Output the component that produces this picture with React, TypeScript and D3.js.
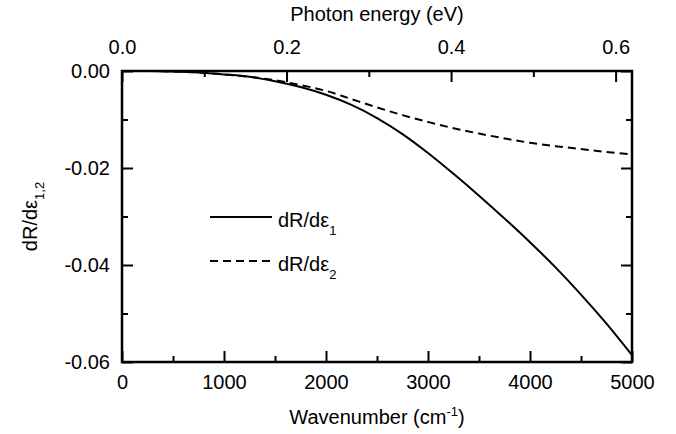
import React, { useEffect, useRef } from 'react';
import * as d3 from 'd3';

// wavenumber grid (cm^-1) and the two derivative curves
const wavenumbers = [250, 500, 750, 1000, 1250, 1500, 1750, 2000, 2250, 2500, 2750, 3000, 3250, 3500, 3750, 4000, 4250, 4500, 4750, 5000];
const dRde1 = [0, -0.0001, -0.0003, -0.0007, -0.0012, -0.0021, -0.0033, -0.0049, -0.007, -0.0097, -0.013, -0.0169, -0.0212, -0.0257, -0.0304, -0.0353, -0.0405, -0.0461, -0.0521, -0.0586];
const dRde2 = [0, -0.0001, -0.0003, -0.0007, -0.0012, -0.0019, -0.0029, -0.0041, -0.0058, -0.0075, -0.0091, -0.0105, -0.0118, -0.0129, -0.0139, -0.0148, -0.0155, -0.0161, -0.0167, -0.0172];

const wnTicks = [0, 1000, 2000, 3000, 4000, 5000];
const wnMinor = [500, 1500, 2500, 3500, 4500];
const evTicks = [0, 0.2, 0.4, 0.6];
const evMinor = [0.1, 0.3, 0.5];
const yTicks = [0, -0.02, -0.04, -0.06];
const yMinor = [-0.01, -0.03, -0.05];

const CM_PER_EV = 8065.54;
const FONT = '"Liberation Sans", Arial, sans-serif';

const App = () => {
  const svgRef = useRef<SVGSVGElement>(null);

  useEffect(() => {
    const W = 676, H = 434;
    const m = { top: 71, right: 44, bottom: 72, left: 122 };
    const w = W - m.left - m.right;
    const h = H - m.top - m.bottom;

    const root = d3.select(svgRef.current);
    root.selectAll('*').remove();
    const svg = root.append('g').attr('transform', `translate(${m.left},${m.top})`);

    const x = d3.scaleLinear().domain([0, 5000]).range([0, w]);
    const xe = d3.scaleLinear().domain([0, 5000 / CM_PER_EV]).range([0, w]);
    const y = d3.scaleLinear().domain([0, -0.06]).range([0, h]);

    const major = 11, minor = 6;

    const style = (g: any) => {
      g.select('.domain').remove();
      g.selectAll('.tick line').attr('stroke', '#000').attr('stroke-width', 2);
      g.selectAll('text').attr('fill', '#000').style('font-family', FONT).style('font-size', '20px');
    };

    // bottom
    svg.append('g').attr('transform', `translate(0,${h})`)
      .call(d3.axisBottom(x).tickValues(wnTicks).tickSizeInner(-major).tickSizeOuter(0).tickPadding(13).tickFormat(d3.format('d')))
      .call(style);
    svg.append('g').attr('transform', `translate(0,${h})`)
      .call(d3.axisBottom(x).tickValues(wnMinor).tickSizeInner(-minor).tickSizeOuter(0).tickFormat(() => ''))
      .call(style);
    // top
    svg.append('g')
      .call(d3.axisTop(xe).tickValues(evTicks).tickSizeInner(-major).tickSizeOuter(0).tickPadding(17).tickFormat(d3.format('.1f')))
      .call(style);
    svg.append('g')
      .call(d3.axisTop(xe).tickValues(evMinor).tickSizeInner(-minor).tickSizeOuter(0).tickFormat(() => ''))
      .call(style);
    // left
    svg.append('g')
      .call(d3.axisLeft(y).tickValues(yTicks).tickSizeInner(-major).tickSizeOuter(0).tickPadding(12).tickFormat(d => d3.format('.2f')(+d).replace('−', '-')))
      .call(style);
    svg.append('g')
      .call(d3.axisLeft(y).tickValues(yMinor).tickSizeInner(-minor).tickSizeOuter(0).tickFormat(() => ''))
      .call(style);
    // right
    svg.append('g').attr('transform', `translate(${w},0)`)
      .call(d3.axisRight(y).tickValues(yTicks).tickSizeInner(-major).tickSizeOuter(0).tickFormat(() => ''))
      .call(style);
    svg.append('g').attr('transform', `translate(${w},0)`)
      .call(d3.axisRight(y).tickValues(yMinor).tickSizeInner(-minor).tickSizeOuter(0).tickFormat(() => ''))
      .call(style);

    // frame
    svg.append('rect').attr('width', w).attr('height', h)
      .attr('fill', 'none').attr('stroke', '#000').attr('stroke-width', 2.5);

    const line = d3.line<number>()
      .x((_, i) => x(wavenumbers[i]))
      .y(d => y(d))
      .curve(d3.curveCatmullRom.alpha(0.5));

    svg.append('path').datum(dRde1).attr('d', line)
      .attr('fill', 'none').attr('stroke', '#000').attr('stroke-width', 2);
    svg.append('path').datum(dRde2).attr('d', line)
      .attr('fill', 'none').attr('stroke', '#000').attr('stroke-width', 2)
      .attr('stroke-dasharray', '8,5');

    // legend
    const legend = [
      { label: '1', dash: null, yy: 217 },
      { label: '2', dash: '8,5', yy: 261 },
    ];
    legend.forEach(l => {
      root.append('line').attr('x1', 210).attr('x2', 272).attr('y1', l.yy).attr('y2', l.yy)
        .attr('stroke', '#000').attr('stroke-width', 2)
        .attr('stroke-dasharray', l.dash);
      const t = root.append('text').attr('x', 278).attr('y', l.yy + 10)
        .style('font-family', FONT).style('font-size', '20px');
      t.append('tspan').text('dR/dε');
      t.append('tspan').attr('dy', 8).style('font-size', '13px').text(l.label);
    });

    // axis titles
    const xt = root.append('text').attr('x', m.left + w / 2).attr('y', 424)
      .attr('text-anchor', 'middle').style('font-family', FONT).style('font-size', '20px');
    xt.append('tspan').text('Wavenumber (cm');
    xt.append('tspan').attr('dy', -8).style('font-size', '13px').text('-1');
    xt.append('tspan').attr('dy', 8).text(')');

    root.append('text').attr('x', m.left + w / 2).attr('y', 21)
      .attr('text-anchor', 'middle').style('font-family', FONT).style('font-size', '20px')
      .text('Photon energy (eV)');

    const yt = root.append('text')
      .attr('transform', `translate(37,${m.top + h / 2}) rotate(-90)`)
      .attr('text-anchor', 'middle').style('font-family', FONT).style('font-size', '20px');
    yt.append('tspan').text('dR/dε');
    yt.append('tspan').attr('dy', 7).style('font-size', '13px').text('1,2');
  }, []);

  return (
    <svg ref={svgRef} width={676} height={434}
      style={{ position: 'absolute', left: 0, top: 0, background: '#fff' }} />
  );
};

export default App;
